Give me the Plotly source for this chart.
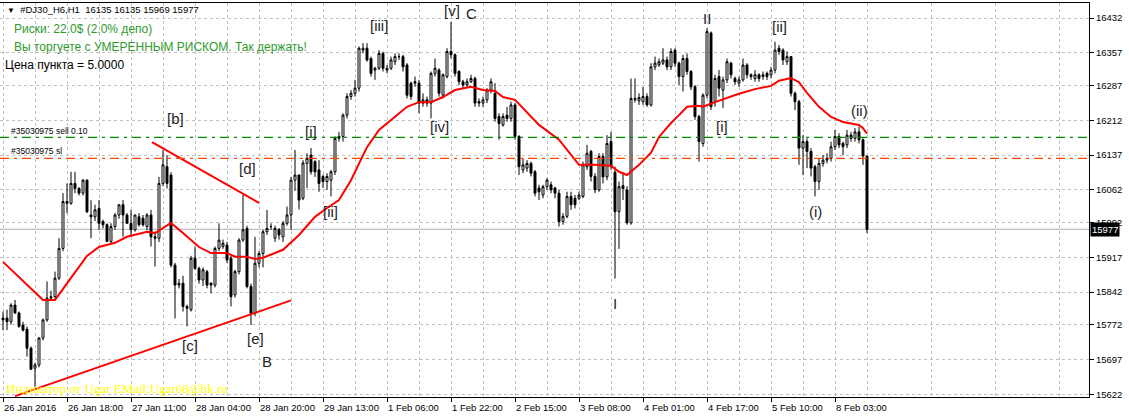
import plotly.graph_objects as go

# ---------------- data (H1 bars, index 0 = 26 Jan 2016 00:00) ----------------
opens = [15786,15786,15778,15814,15797,15771,15762,15721,15678,15685,15743,15782,15829,15832,15872,15936,16037,16033,16076,16065,
         16055,16083,16008,16004,16022,15994,15987,15951,15983,16008,16030,16008,15990,15976,16004,16001,15983,16008,15961,15958,
         16076,16112,16094,15900,15857,15861,15811,15804,15915,15893,15868,15886,15861,15857,15936,15940,15943,15915,15836,15886,
         15954,15979,15854,15796,15904,15925,15972,15983,15958,15976,15961,15990,16008,16083,16094,16044,16119,16137,16123,16105,
         16091,16080,16083,16101,16173,16177,16223,16263,16270,16281,16363,16367,16345,16320,16324,16356,16320,16324,16338,16349,
         16349,16331,16292,16295,16292,16249,16256,16249,16313,16320,16266,16306,16360,16353,16317,16295,16288,16295,16302,16252,
         16249,16256,16277,16270,16220,16202,16223,16216,16245,16177,16105,16109,16119,16101,16066,16051,16069,16073,16066,16055,
         15994,16005,16048,16044,16044,16048,16112,16145,16091,16062,16134,16090,16166,16100,16015,16071,16062,15991,16256,16254,
         16252,16263,16245,16327,16331,16335,16342,16327,16363,16335,16306,16345,16317,16284,16220,16162,16266,16400,16252,16306,
         16277,16299,16335,16302,16292,16299,16331,16310,16302,16310,16306,16313,16310,16320,16367,16363,16338,16349,16270,16252,
         16152,16166,16145,16112,16080,16119,16126,16130,16155,16177,16162,16159,16180,16173,16187,16170,16135]
highs = [15800,15804,15818,15825,15800,15778,15768,15725,15690,15745,15785,15865,15845,15886,15958,16055,16076,16101,16101,16068,
         16085,16085,16040,16030,16040,15998,15990,15990,16012,16030,16040,16012,16019,16008,16012,16008,16012,16019,15972,16090,
         16148,16137,16100,15905,15870,15877,15815,15920,15940,15897,15895,15890,15863,15940,15990,15955,15950,15920,15890,15958,
         16051,15985,15860,15961,15930,15976,16019,15990,15985,15980,15995,16026,16090,16148,16095,16126,16141,16152,16126,16126,
         16095,16098,16105,16177,16187,16227,16270,16277,16299,16371,16378,16378,16349,16327,16363,16360,16331,16349,16356,16356,
         16353,16335,16295,16306,16299,16270,16263,16317,16345,16324,16313,16367,16424,16356,16320,16299,16302,16310,16306,16259,
         16263,16281,16302,16292,16227,16227,16241,16252,16249,16180,16130,16126,16123,16105,16073,16073,16087,16080,16069,16062,
         16012,16058,16058,16051,16058,16123,16159,16148,16098,16141,16141,16180,16187,16112,16080,16100,16070,16302,16302,16270,
         16284,16270,16335,16349,16345,16367,16349,16367,16367,16338,16353,16356,16320,16288,16224,16270,16410,16403,16310,16320,
         16306,16345,16338,16306,16306,16345,16335,16313,16320,16313,16317,16317,16327,16381,16374,16367,16360,16349,16274,16256,
         16180,16173,16152,16116,16130,16137,16141,16166,16191,16184,16166,16191,16187,16195,16198,16173,16135]
lows = [15760,15760,15772,15795,15765,15757,15703,15674,15638,15680,15738,15778,15825,15828,15868,15930,16012,16030,16055,16050,
        16050,16012,15958,15995,15976,15979,15951,15945,15976,16000,15961,15990,15961,15972,15983,15983,15975,15940,15897,15950,
        16070,16065,15895,15785,15850,15800,15768,15800,15890,15860,15855,15850,15839,15852,15930,15935,15905,15811,15830,15880,
        15950,15850,15771,15790,15895,15895,15965,15976,15950,15955,15950,15985,15976,16060,16020,16040,16066,16095,16090,16058,
        16066,16062,16048,16094,16166,16166,16216,16256,16263,16274,16356,16338,16306,16299,16320,16317,16313,16320,16331,16342,
        16317,16259,16256,16284,16227,16241,16241,16216,16306,16263,16259,16302,16345,16306,16288,16281,16281,16292,16241,16241,
        16241,16249,16270,16209,16170,16198,16209,16209,16170,16094,16098,16101,16091,16048,16040,16044,16062,16055,16044,15983,
        15987,16001,16019,16022,16040,16044,16105,16080,16055,16058,16076,16083,16105,15871,15935,16040,15987,15987,16250,16245,
        16245,16241,16241,16320,16327,16331,16320,16320,16327,16288,16274,16310,16277,16213,16123,16155,16259,16234,16241,16263,
        16238,16292,16302,16288,16284,16295,16302,16299,16295,16295,16299,16299,16302,16313,16353,16331,16331,16263,16234,16116,
        16094,16109,16091,16048,16062,16112,16119,16123,16148,16152,16137,16152,16166,16166,16162,16116,15969]
closes = [15782,15778,15814,15797,15768,15760,15721,15676,15685,15743,15782,15829,15832,15872,15936,16037,16033,16076,16065,16055,
          16083,16015,16004,16019,15990,15987,15951,15983,16008,16030,16008,15990,15976,16008,15987,15987,16008,15961,15958,16076,
          16116,16076,15900,15857,15861,15811,15807,15915,15893,15868,15890,15857,15857,15936,15954,15947,15911,15832,15886,15954,
          15976,15854,15796,15904,15925,15972,15979,15983,15979,15965,15990,16008,16083,16094,16040,16120,16130,16101,16101,16076,
          16080,16091,16101,16173,16177,16223,16263,16270,16281,16367,16367,16342,16313,16324,16356,16324,16324,16342,16349,16349,
          16327,16266,16263,16292,16249,16256,16249,16313,16324,16270,16310,16360,16353,16313,16295,16288,16295,16302,16249,16249,
          16256,16277,16295,16216,16205,16220,16216,16245,16177,16112,16116,16119,16098,16055,16058,16069,16083,16062,16055,15994,
          16005,16048,16030,16030,16051,16116,16141,16091,16062,16134,16090,16162,16112,16015,16069,16065,15991,16259,16259,16261,
          16263,16245,16327,16335,16338,16342,16327,16360,16335,16306,16345,16317,16284,16220,16166,16266,16403,16241,16302,16281,
          16299,16338,16310,16295,16299,16331,16310,16306,16310,16302,16310,16306,16320,16363,16360,16342,16349,16270,16252,16152,
          16166,16145,16109,16080,16119,16126,16130,16155,16177,16159,16155,16180,16173,16187,16170,16135,15977]

# moving average
ma_idx = [0,10,13,21,24,28,31,36,38,42,45,49,52,56,58,61,63,65,68,70,74,78,81,84,87,91,94,98,101,104,107,110,113,117,120,123,
          125,128,131,134,139,142,144,148,152,154,156,159,162,164,167,169,171,174,175,178,181,184,188,192,194,197,199,201,204,207,
          210,214,215,216]
ma_val = [15907,15825,15825,15920,15939,15948,15961,15972,15969,15991,15969,15939,15926,15926,15918,15918,15913,15916,15926,15933,
          15965,16004,16023,16040,16083,16154,16191,16219,16241,16251,16251,16262,16277,16284,16277,16275,16262,16256,16230,16202,
          16170,16137,16116,16116,16114,16101,16094,16116,16142,16176,16206,16223,16241,16243,16241,16251,16260,16269,16279,16286,
          16297,16303,16294,16271,16241,16219,16208,16202,16195,16183]

# trend lines
upper_idx = [37.25, 64]
upper_val = [16165, 16034]
lower_idx = [3, 72]
lower_val = [15618, 15824]

# order levels
sell_level = 16175
sl_level = 16130
bid_level = 15977

# axis labels
time_idx = [0,16,32,48,64,80,96,112,128,144,160,176,192,208]
time_txt = ["26 Jan 2016","26 Jan 18:00","27 Jan 11:00","28 Jan 04:00","28 Jan 20:00","29 Jan 13:00","1 Feb 06:00",
            "1 Feb 22:00","2 Feb 15:00","3 Feb 08:00","4 Feb 01:00","4 Feb 17:00","5 Feb 10:00","8 Feb 03:00"]
price_ticks = [16432,16357,16287,16212,16137,16062,15992,15917,15842,15772,15697,15622]

# wave labels
wave_txt = ["[b]","[d]","[c]","[e]","B","[i]","[ii]","[iii]","[v]","C","[iv]","I","II","[i]","[ii]","(i)","(ii)"]
wave_idx = [43,61,46.75,63,66,77,81.75,94,112.25,117,109,153,176,179.75,194,203,214]
wave_val = [16215,16109,15726,15741,15692,16187,16015,16417,16449,16441,16198,15817,16432,16198,16413,16015,16232]

# ---------------- figure ----------------
FONT = "Liberation Sans, Arial, sans-serif"
fig = go.Figure()

fig.add_trace(go.Candlestick(
    x=list(range(len(opens))), open=opens, high=highs, low=lows, close=closes,
    increasing=dict(line=dict(color="black", width=1), fillcolor="white"),
    decreasing=dict(line=dict(color="black", width=1), fillcolor="black"),
    whiskerwidth=0, showlegend=False, hoverinfo="skip"))

fig.add_trace(go.Scatter(x=ma_idx, y=ma_val, mode="lines", line=dict(color="#ff0000", width=2),
                         showlegend=False, hoverinfo="skip"))
fig.add_trace(go.Scatter(x=upper_idx, y=upper_val, mode="lines", line=dict(color="#ff0000", width=2),
                         showlegend=False, hoverinfo="skip"))
fig.add_trace(go.Scatter(x=lower_idx, y=lower_val, mode="lines", line=dict(color="#ff0000", width=2),
                         showlegend=False, hoverinfo="skip"))

shapes = [
    dict(type="line", xref="paper", x0=0, x1=1, yref="y", y0=bid_level, y1=bid_level,
         line=dict(color="#c0c0c0", width=1.2), layer="below"),
    dict(type="line", xref="paper", x0=0, x1=1, yref="y", y0=sell_level, y1=sell_level,
         line=dict(color="#008c00", width=1.3, dash="9px,5px,3px,5px")),
    dict(type="line", xref="paper", x0=0, x1=1, yref="y", y0=sl_level, y1=sl_level,
         line=dict(color="#ff4500", width=1.3, dash="9px,5px,3px,5px")),
]

ann = []
for t, xv in zip(time_txt, time_idx):
    ann.append(dict(x=xv, xref="x", y=0, yref="paper", yanchor="top", xanchor="left", yshift=-3, xshift=-1,
                    text=t, showarrow=False, font=dict(family=FONT, size=9.5, color="black")))
for t, xv, yv in zip(wave_txt, wave_idx, wave_val):
    ann.append(dict(x=xv, y=yv, xref="x", yref="y", text=t, showarrow=False,
                    font=dict(family=FONT, size=15, color="#1e1e28")))

def px_ann(text, px, py, size, color, family=FONT):
    return dict(x=px / 1089, y=1 - (py - 3) / 394, xref="paper", yref="paper", xanchor="left", yanchor="middle",
                text=text, showarrow=False, font=dict(family=family, size=size, color=color))

ann += [
    px_ann('<span style="font-size:8px">▼</span>  #DJ30_H6,H1  16135 16135 15969 15977', 5, 9, 9.5, "black"),
    px_ann("Риски: 22.0$ (2.0% депо)", 12, 29, 12, "#2e9a2e"),
    px_ann("Вы торгуете с УМЕРЕННЫМ РИСКОМ. Так держать!", 12, 47, 12, "#2e9a2e"),
    px_ann("Цена пункта = 5.0000", 3, 65, 12, "black"),
    px_ann("#35030975 sell 0.10", 9, 131, 8.5, "black"),
    px_ann("#35030975 sl", 9, 151, 8.5, "black"),
    px_ann("Индикатор от Ugar EMail:Ugar68@bk.ru", 4, 388, 13, "#ffff00", "Liberation Serif, Times New Roman, serif"),
    dict(x=1, xref="paper", y=bid_level, yref="y", xanchor="left", yanchor="middle", xshift=1,
         text="15977", showarrow=False, bgcolor="black", borderpad=1,
         font=dict(family=FONT, size=9.5, color="white")),
]

grid_minor = [v for v in range(8, 272, 16)]

fig.update_layout(
    width=1129, height=418,
    margin=dict(l=0, r=40, t=3, b=21),
    paper_bgcolor="white", plot_bgcolor="white",
    shapes=shapes, annotations=ann, showlegend=False,
    xaxis=dict(range=[-0.75, 271.5], rangeslider=dict(visible=False),
               tickmode="array", tickvals=time_idx, ticktext=[""] * len(time_idx),
               ticks="outside", ticklen=4, tickcolor="black",
               showgrid=True, gridcolor="#c0c0c0", griddash="3px,3px", gridwidth=1,
               minor=dict(tickmode="array", tickvals=grid_minor, showgrid=True, gridcolor="#c0c0c0",
                          griddash="3px,3px", ticks=""),
               showline=True, linecolor="black", linewidth=1, mirror=True, zeroline=False, fixedrange=True),
    yaxis=dict(range=[15616, 16464.5], side="right", tickmode="array", tickvals=price_ticks,
               ticktext=[str(v) for v in price_ticks], ticks="outside", ticklen=4, tickcolor="black",
               tickfont=dict(family=FONT, size=9.5, color="black"),
               showgrid=True, gridcolor="#c0c0c0", griddash="3px,3px", gridwidth=1,
               showline=True, linecolor="black", linewidth=1, zeroline=False, fixedrange=True),
)

fig.write_html("out.html", config={"displayModeBar": False},
               post_script="document.body.style.margin='0';document.body.style.padding='0';")
